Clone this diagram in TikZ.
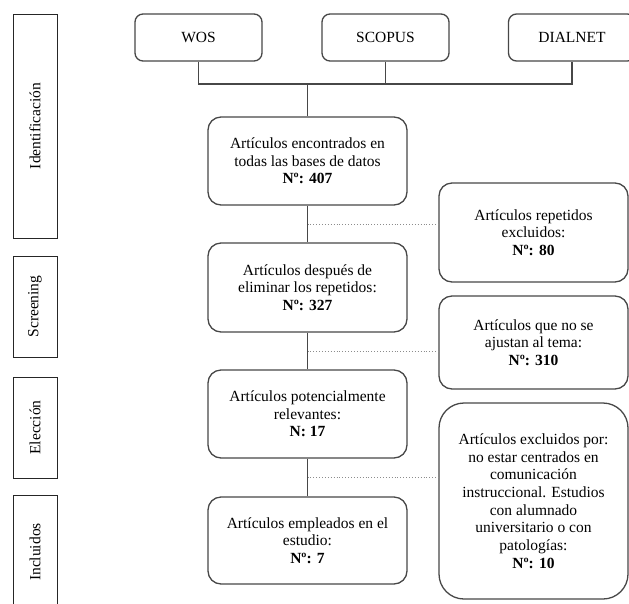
\documentclass[tikz,border=0pt]{standalone}
\usepackage{fontspec}
\setmainfont{Liberation Serif}
\begin{document}
\begin{tikzpicture}[x=1pt,y=-1pt,
  line/.style={draw=black!72, line width=1.3pt},
  dots/.style={draw=black!45, dotted, line width=0.9pt},
  dbbox/.style={line, rounded corners=8pt, minimum width=127pt, minimum height=47pt, font=\fontsize{15.5}{17.5}\selectfont},
  mainbox/.style={line, rounded corners=13pt, minimum width=199pt, align=center, font=\fontsize{15.5}{17.7}\selectfont},
  sidebox/.style={line, rounded corners=13pt, minimum width=189pt, align=center, font=\fontsize{15.5}{17.7}\selectfont},
  phase/.style={draw=black!85, line width=1pt, minimum width=44pt, font=\fontsize{15.5}{17}\selectfont}
]
\useasboundingbox (0,0) rectangle (629,603);
\clip (0,0) rectangle (629,603);
% phase labels
\node[phase, minimum height=224pt] (p1) at (35,126) {\rotatebox{90}{Identificación}};
\node[phase, minimum height=101pt] (p2) at (35,306.5) {\rotatebox{90}{Screening}};
\node[phase, minimum height=101pt] (p3) at (35,427.5) {\rotatebox{90}{Elección}};
\node[phase, minimum height=114pt] (p4) at (35,552) {\rotatebox{90}{Incluidos}};
% databases
\node[dbbox] (wos) at (198.5,37.5) {WOS};
\node[dbbox] (scopus) at (385.5,37.5) {SCOPUS};
\node[dbbox] (dialnet) at (572,37.5) {DIALNET};
% main column
\node[mainbox, minimum height=88pt] (b1) at (307.5,161) {Artículos encontrados en\\todas las bases de datos\\\textbf{Nº: 407}};
\node[mainbox, minimum height=89pt] (b2) at (307.5,287.5) {Artículos después de\\eliminar los repetidos:\\\textbf{Nº: 327}};
\node[mainbox, minimum height=88pt] (b3) at (307.5,414) {Artículos potencialmente\\relevantes:\\\textbf{N: 17}};
\node[mainbox, minimum height=87pt] (b4) at (307.5,540.5) {Artículos empleados en el\\estudio:\\\textbf{Nº: 7}};
% side boxes
\node[sidebox, minimum height=99pt] (r1) at (533.5,232.5) {Artículos repetidos\\excluidos:\\\textbf{Nº: 80}};
\node[sidebox, minimum height=93pt] (r2) at (533.5,342.5) {Artículos que no se\\ajustan al tema:\\\textbf{Nº: 310}};
\node[sidebox, minimum height=196pt, rounded corners=25pt] (r3) at (533.5,501) {Artículos excluidos por:\\no estar centrados en\\comunicación\\instruccional. Estudios\\con alumnado\\universitario o con\\patologías:\\\textbf{Nº: 10}};
% connectors
\coordinate (jw) at (198.5,84);
\coordinate (jd) at (572,84);
\coordinate (jm) at (307.5,84);
\draw[line] (wos.south) -- (jw) -- (jd) -- (dialnet.south);
\draw[line] (scopus.south) -- (scopus.south |- jw);
\draw[line] (jm) -- (b1.north);
\draw[line] (b1.south) -- (b2.north);
\draw[line] (b2.south) -- (b3.north);
\draw[line] (b3.south) -- (b4.north);
\coordinate (d1) at (307.5,224);
\coordinate (d2) at (307.5,351);
\coordinate (d3) at (307.5,477);
\draw[dots] (d1) -- (d1 -| r1.west);
\draw[dots] (d2) -- (d2 -| r2.west);
\draw[dots] (d3) -- (d3 -| r3.west);
\end{tikzpicture}
\end{document}
